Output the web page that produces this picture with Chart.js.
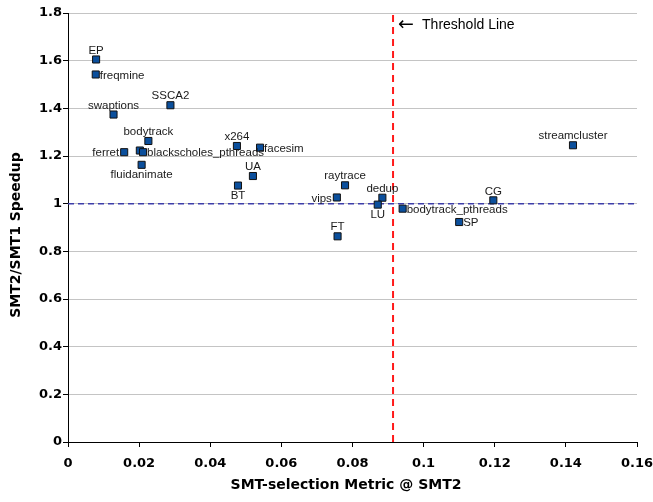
<!DOCTYPE html>
<html>
<head>
<meta charset="utf-8">
<script src="https://cdn.jsdelivr.net/npm/chart.js@4/dist/chart.umd.min.js"></script>
<style>
  html, body { margin: 0; padding: 0; background: #fff; }
  #wrap { width: 653px; height: 502px; position: relative; }
</style>
</head>
<body>
<div id="wrap"><canvas id="smtChart"></canvas></div>
<script>
'use strict';

// benchmarks, their SMT-selection metric and SMT2/SMT1 speedup
const benchmarks = ['EP', 'freqmine', 'swaptions', 'SSCA2', 'bodytrack', 'ferret', '',
  'blackscholes_pthreads', 'fluidanimate', 'x264', 'facesim', 'UA', 'BT', 'raytrace',
  'vips', 'dedup', 'LU', 'FT', 'bodytrack_pthreads', 'CG', 'SP', 'streamcluster'];
const metric = [0.0079, 0.0078, 0.0128, 0.0288, 0.0226, 0.0158, 0.0202,
  0.0211, 0.0207, 0.0475, 0.0540, 0.0520, 0.0478, 0.0779,
  0.0756, 0.0884, 0.0871, 0.0758, 0.0941, 0.1196, 0.1100, 0.1420];
const speedup = [1.605, 1.542, 1.374, 1.413, 1.263, 1.216, 1.223,
  1.216, 1.163, 1.242, 1.235, 1.116, 1.076, 1.077,
  1.026, 1.025, 0.996, 0.863, 0.979, 1.014, 0.923, 1.245];

const thresholdMetric = 0.0914;
const baselineSpeedup = 1;
const xRange = [0, 0.16];
const yRange = [0, 1.8];

// where each benchmark name sits next to its marker
const labelSide = ['above', 'right', 'above', 'above', 'above', 'left', 'none',
  'right', 'below', 'above', 'right', 'above', 'below', 'above',
  'left', 'above', 'below', 'above', 'right', 'above', 'right', 'above'];

const points = metric.map((x, i) => ({ x: x, y: speedup[i] }));

const fmt = v => String(+Number(v).toFixed(2));
const boldFont = '"DejaVu Sans", sans-serif';

const pointLabels = {
  id: 'pointLabels',
  afterDatasetsDraw(chart) {
    const ctx = chart.ctx;
    const meta = chart.getDatasetMeta(0);
    ctx.save();
    ctx.font = '11.5px "Liberation Sans", Arial, sans-serif';
    ctx.fillStyle = '#1a1a1a';
    meta.data.forEach((pt, i) => {
      const side = labelSide[i];
      const txt = benchmarks[i];
      if (!txt || side === 'none') return;
      let x = pt.x, y = pt.y;
      ctx.textBaseline = 'middle';
      if (side === 'above') { ctx.textAlign = 'center'; y -= 9; }
      else if (side === 'below') { ctx.textAlign = 'center'; y += 10; }
      else if (side === 'right') { ctx.textAlign = 'left'; x += 4; y += 1; }
      else { ctx.textAlign = 'right'; x -= 5; y += 1; }
      ctx.fillText(txt, x, y);
    });
    ctx.restore();
  }
};

const axisTitles = {
  id: 'axisTitles',
  afterDraw(chart) {
    const ctx = chart.ctx;
    const xs = chart.scales.x;
    ctx.save();
    ctx.fillStyle = '#000';
    ctx.textAlign = 'center';
    ctx.textBaseline = 'middle';
    ctx.font = 'bold 14px ' + boldFont;
    ctx.fillText('SMT-selection Metric @ SMT2', 346, 485);
    ctx.translate(16, 235);
    ctx.rotate(-Math.PI / 2);
    ctx.fillText('SMT2/SMT1 Speedup', 0, 0);
    ctx.restore();

    // note next to the threshold line
    ctx.save();
    ctx.fillStyle = '#000';
    ctx.textBaseline = 'middle';
    ctx.textAlign = 'left';
    const x0 = xs.getPixelForValue(thresholdMetric) + 5;
    ctx.font = '19px "DejaVu Sans", sans-serif';
    ctx.fillText('\u2190', x0, 25);
    ctx.font = '14px "Liberation Sans", Arial, sans-serif';
    ctx.fillText('Threshold Line', x0 + 24, 25);
    ctx.restore();
  }
};

const config = {
  type: 'scatter',
  data: {
    datasets: [{
      label: 'Benchmarks',
      data: points,
      pointStyle: 'rect',
      pointRadius: 5,
      pointBackgroundColor: '#0b4f9c',
      pointBorderColor: '#111',
      pointBorderWidth: 1,
      order: 0
    },
    {
      label: 'Baseline',
      data: [{ x: xRange[0], y: baselineSpeedup }, { x: xRange[1], y: baselineSpeedup }],
      showLine: true,
      pointRadius: 0,
      borderColor: '#3d3daa',
      borderWidth: 1.5,
      borderDash: [6, 4],
      order: 1
    },
    {
      label: 'Threshold',
      data: [{ x: thresholdMetric, y: yRange[0] }, { x: thresholdMetric, y: yRange[1] }],
      showLine: true,
      pointRadius: 0,
      borderColor: '#ff1a1a',
      borderWidth: 2,
      borderDash: [7, 5],
      order: 1
    }]
  },
  options: {
    responsive: true,
    maintainAspectRatio: false,
    animation: false,
    layout: { padding: { top: 13, right: 16, left: 0, bottom: 0 } },
    plugins: {
      legend: { display: false },
      tooltip: { enabled: false }
    },
    scales: {
      x: {
        type: 'linear',
        min: xRange[0],
        max: xRange[1],
        afterFit: s => { s.height = 60; s.paddingLeft = 0; s.paddingRight = 0; },
        border: { color: '#000', width: 1 },
        grid: { drawOnChartArea: false, tickLength: 5, tickColor: '#000' },
        ticks: {
          stepSize: 0.02,
          padding: 9,
          color: '#000',
          maxRotation: 0,
          font: { family: boldFont, size: 13, weight: 'bold' },
          callback: fmt
        }
      },
      y: {
        min: yRange[0],
        max: yRange[1],
        afterFit: s => { s.width = 68; s.paddingTop = 0; s.paddingBottom = 0; },
        border: { color: '#000', width: 1 },
        grid: { color: '#c4c4c4', tickLength: 5, tickColor: '#000' },
        ticks: {
          stepSize: 0.2,
          padding: 1,
          color: '#000',
          font: { family: boldFont, size: 13, weight: 'bold' },
          callback: fmt
        }
      }
    }
  },
  plugins: [pointLabels, axisTitles]
};

const smtChart = new Chart(document.getElementById('smtChart'), config);
</script>
</body>
</html>
